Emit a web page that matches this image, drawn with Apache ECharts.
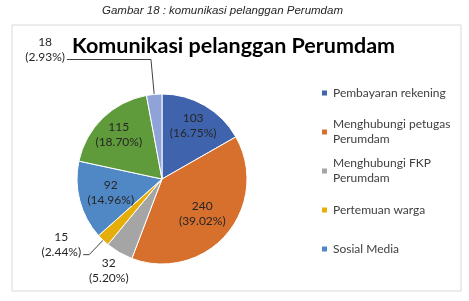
<!DOCTYPE html>
<html>
<head>
<meta charset="utf-8">
<script src="https://cdn.jsdelivr.net/npm/echarts@6/dist/echarts.min.js"></script>
<style>
  html, body { margin: 0; padding: 0; background: #fff; }
  #chart { width: 469px; height: 301px; }
</style>
</head>
<body>
<div id="chart"></div>
<script>
// data
const categories = [
  "Pembayaran rekening",
  "Menghubungi petugas Perumdam",
  "Menghubungi FKP Perumdam",
  "Pertemuan warga",
  "Sosial Media",
  "Datang ke kantor",
  "Lainnya",
];
const values = [103, 240, 32, 15, 92, 115, 18];
// only the first five show up in the legend
const legendNames = categories.slice(0, 5);
const legendText = [
  "Pembayaran rekening",
  "Menghubungi petugas\nPerumdam",
  "Menghubungi FKP\nPerumdam",
  "Pertemuan warga",
  "Sosial Media",
];

const colors = ["#3F64AD", "#D6702C", "#A5A5A5", "#E5AE0A", "#4F88C4", "#5F9B3B", "#8FA3D9"];
const FONT = "Lato";
const LABEL_COLOR = "#262626";

const center = [162, 179];
const R = 85;

// where each slice's label goes
const farLabels = [0, 5];
const nearLabels = [1, 4];
const ringLabels = [2];
const outerLines = {
  3: { length: 20, length2: 6 },
  6: { length: 35, length2: 84 },
};

function pctLabel(p) {
  return p.value + "\n(" + p.percent.toFixed(2) + "%)";
}
// outside labels sit above the end of their line, like excel does
function pctLabelRaised(p) {
  return "{t|" + p.value + "}\n{t|(" + p.percent.toFixed(2) + "%)}\n{s| }";
}

const labelFont = {
  fontFamily: FONT,
  fontSize: 12,
  lineHeight: 15,
  color: LABEL_COLOR,
};

// transparent ring used only to place labels
function labelRing(radius, shown) {
  return {
    type: "pie",
    center: center,
    radius: radius,
    startAngle: 90,
    silent: true,
    avoidLabelOverlap: false,
    itemStyle: { color: "transparent", borderWidth: 0 },
    label: Object.assign({ position: "inside", formatter: pctLabel }, labelFont),
    labelLine: { show: false },
    data: values.map((v, i) => ({
      name: categories[i],
      value: v,
      label: { show: shown.indexOf(i) >= 0 },
    })),
  };
}

const legendCenters = [93, 132, 171, 210, 249];

const chart = echarts.init(document.getElementById("chart"));
chart.setOption({
  animation: false,
  graphic: [
    {
      type: "rect",
      shape: { x: 12, y: 25, width: 449, height: 266 },
      style: { fill: "none", stroke: "#D9D9D9", lineWidth: 1 },
      silent: true,
    },
  ],
  title: [
    {
      text: "Gambar 18 : komunikasi pelanggan Perumdam",
      left: 102,
      top: 5,
      padding: 0,
      textStyle: {
        fontFamily: "Liberation Sans",
        fontStyle: "italic",
        fontWeight: "normal",
        fontSize: 11.5,
        color: "#262626",
      },
    },
    {
      text: "Komunikasi pelanggan Perumdam",
      left: 72,
      top: 35,
      padding: 0,
      textStyle: {
        fontFamily: FONT,
        fontWeight: "bold",
        fontSize: 21.5,
        color: "#000",
      },
    },
  ],
  legend: legendNames.map((name, i) => {
    const twoLine = legendText[i].indexOf("\n") >= 0;
    return {
      data: [{ name: name, textStyle: twoLine ? { padding: [15, 0, 0, 0] } : {} }],
      orient: "vertical",
      left: 320,
      top: legendCenters[i] - (twoLine ? 22.5 : 7.5),
      padding: 0,
      icon: "rect",
      itemWidth: 7,
      itemHeight: 7,
      selectedMode: false,
      formatter: () => legendText[i],
      textStyle: {
        fontFamily: FONT,
        fontSize: 12,
        lineHeight: 15,
        color: "#404040",
      },
    };
  }),
  series: [
    {
      type: "pie",
      center: center,
      radius: R,
      startAngle: 90,
      silent: true,
      avoidLabelOverlap: false,
      itemStyle: { borderColor: "#fff", borderWidth: 1 },
      label: {
        position: "outside",
        formatter: pctLabelRaised,
        distanceToLabelLine: 2,
        rich: {
          t: Object.assign({ align: "center" }, labelFont),
          s: { fontSize: 1, lineHeight: 20 },
        },
      },
      labelLine: { lineStyle: { color: "#404040", width: 1 } },
      data: values.map((v, i) => {
        const o = outerLines[i];
        return {
          name: categories[i],
          value: v,
          itemStyle: { color: colors[i] },
          label: { show: !!o },
          labelLine: o ? { show: true, length: o.length, length2: o.length2 } : { show: false },
        };
      }),
    },
    labelRing([33, R], farLabels),
    labelRing([15, R], nearLabels),
    labelRing([R, 121], ringLabels),
  ],
});
</script>
</body>
</html>
